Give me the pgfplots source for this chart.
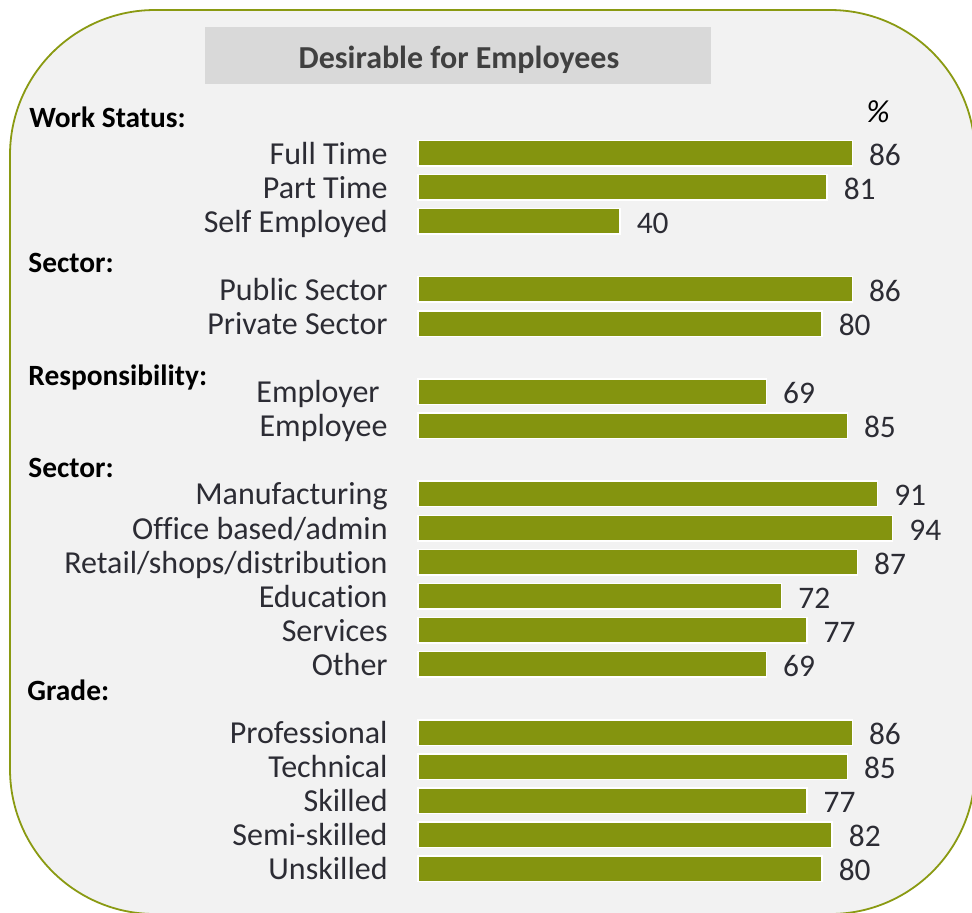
\documentclass[border=0pt]{standalone}
\usepackage{pgfplots}
\pgfplotsset{compat=1.18}
\usepackage{pgfplotstable}
\usepackage{fontspec}
\setmainfont{Carlito}[Ligatures=NoCommon]
\definecolor{barolive}{HTML}{84940F}
\definecolor{boxolive}{HTML}{8A9A12}
\definecolor{bgcol}{HTML}{F2F2F2}
\definecolor{titlegrey}{HTML}{D9D9D9}
\definecolor{titletext}{HTML}{404040}
\definecolor{labtext}{HTML}{2C2C34}

\pgfplotstableread{
y v
0 86
1 81
2 40
4 86
5 80
7 69
8 85
10 91
11 94
12 87
13 72
14 77
15 69
17 86
18 85
19 77
20 82
21 80
}\data

\begin{document}
\begin{tikzpicture}
\begin{scope}[x=0.5pt,y=-0.5pt]
\useasboundingbox (0,0) rectangle (972,912);
\clip (0,0) rectangle (972,912);
\fill[white] (0,0) rectangle (972,912);
\draw[boxolive, line width=0.9pt, fill=bgcol, rounded corners=72.5pt] (10,10) rectangle (975,914);
\fill[titlegrey] (205,27) rectangle (711,84);
\node[anchor=base, text=titletext, font=\bfseries\fontsize{16pt}{19pt}\selectfont, inner sep=0pt] at (459,68.3) {Desirable for Employees};
\node[anchor=base west, font=\bfseries\fontsize{14.7pt}{17pt}\selectfont, inner sep=0pt] at (29,127) {Work Status:};
\node[anchor=base west, font=\bfseries\fontsize{14.7pt}{17pt}\selectfont, inner sep=0pt] at (28,272) {Sector:};
\node[anchor=base west, font=\bfseries\fontsize{14.7pt}{17pt}\selectfont, inner sep=0pt] at (28,385) {Responsibility:};
\node[anchor=base west, font=\bfseries\fontsize{14.7pt}{17pt}\selectfont, inner sep=0pt] at (28,477) {Sector:};
\node[anchor=base west, font=\bfseries\fontsize{14.7pt}{17pt}\selectfont, inner sep=0pt] at (27,700) {Grade:};
\node[anchor=base, font=\itshape\fontsize{16pt}{19pt}\selectfont, inner sep=0pt] at (878,122) {\%};
\end{scope}
\begin{axis}[
  at={(209pt,-443pt)}, anchor=south west,
  scale only axis, width=252.5pt, height=375pt,
  xmin=0, xmax=100, ymin=-0.5, ymax=21.5, y dir=reverse,
  axis line style={draw=none}, tick style={draw=none},
  major tick length=0pt,
  xtick=\empty,
  ytick={0,1,2,4,5,7,8,10,11,12,13,14,15,17,18,19,20,21},
  yticklabels={Full Time,Part Time,Self Employed,Public Sector,Private Sector,Employer\hspace*{4pt},Employee,Manufacturing,Office based/admin,Retail/shops/distribution,Education,Services,Other,Professional,Technical,Skilled,Semi-skilled,Unskilled},
  yticklabel style={font=\fontsize{16pt}{19pt}\selectfont, text=labtext, anchor=base east, inner sep=0pt, xshift=-15pt, yshift=-5.5pt},
  xbar, bar width=12.75pt, bar shift=0pt,
  clip=false,
  /pgf/number format/assume math mode=true,
  nodes near coords,
  point meta=x,
  nodes near coords style={font=\fontsize{15.7pt}{18pt}\selectfont, text=labtext, anchor=base west, inner sep=0pt, xshift=8pt, yshift=-6pt},
]
\addplot[fill=barolive, draw=white, line width=0.75pt] table[x=v,y=y]{\data};
\end{axis}
\end{tikzpicture}
\end{document}
